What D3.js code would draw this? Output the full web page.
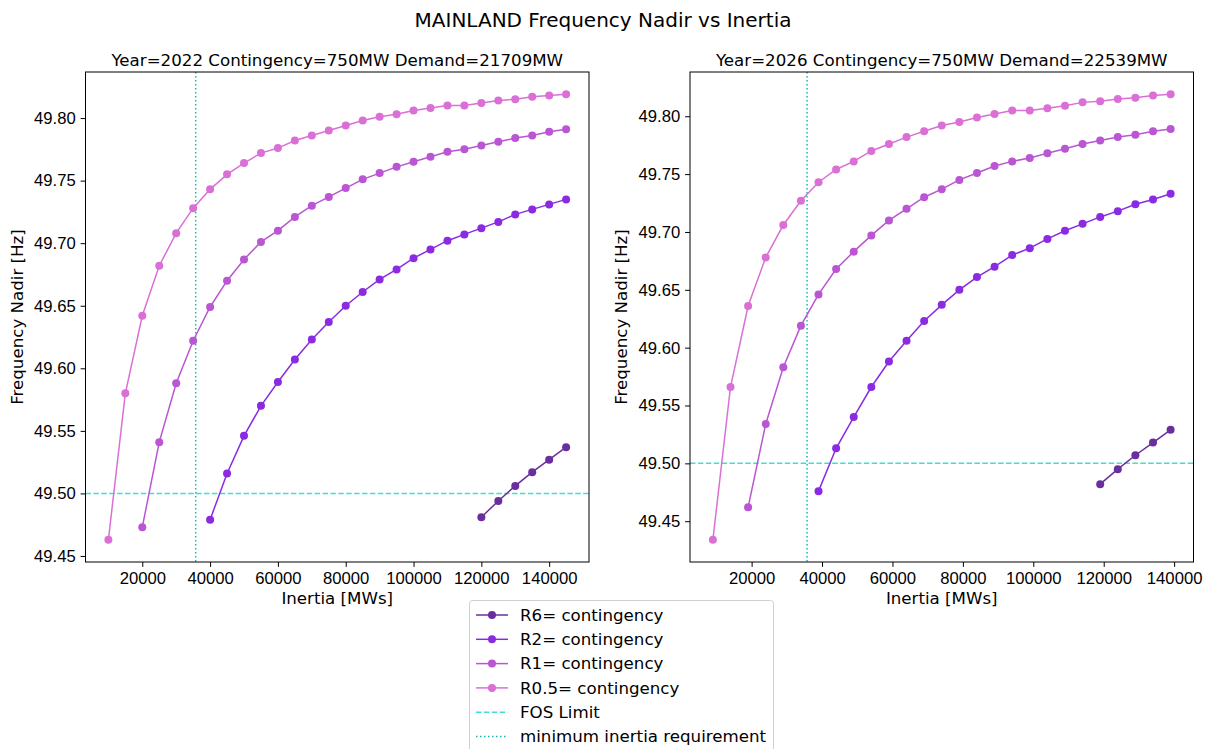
<!DOCTYPE html>
<html>
<head>
<meta charset="utf-8">
<script src="https://cdn.jsdelivr.net/npm/d3@7"></script>
<style>
  html, body { margin: 0; padding: 0; background: #fff; }
  svg { display: block; font-family: "DejaVu Sans", sans-serif; }
  .tick text { font-size: 16.67px; fill: #000; }
  .tick line { stroke: #000; stroke-width: 1; }
</style>
</head>
<body>
<svg id="chart" width="1207" height="749"></svg>
<script>
// Inertia sample points (MWs) for each study year
const inertia2022 = [10000, 15000, 20000, 25000, 30000, 35000, 40000, 45000, 50000, 55000,
  60000, 65000, 70000, 75000, 80000, 85000, 90000, 95000, 100000, 105000,
  110000, 115000, 120000, 125000, 130000, 135000, 140000, 145000];
const inertia2026 = [9000, 14000, 19000, 24000, 29000, 34000, 39000, 44000, 49000, 54000,
  59000, 64000, 69000, 74000, 79000, 84000, 89000, 94000, 99000, 104000,
  109000, 114000, 119000, 124000, 129000, 134000, 139000];

// Frequency nadir (Hz); each series covers the last N inertia points of its year
const r6_2022 = [49.481, 49.494, 49.506, 49.517, 49.527, 49.537];
const r2_2022 = [49.479, 49.516, 49.546, 49.570, 49.589, 49.607, 49.623, 49.637, 49.650, 49.661,
  49.671, 49.679, 49.688, 49.695, 49.702, 49.707, 49.712, 49.717, 49.723, 49.727, 49.731, 49.735];
const r1_2022 = [49.473, 49.541, 49.588, 49.622, 49.649, 49.670, 49.687, 49.701, 49.710, 49.721,
  49.730, 49.737, 49.744, 49.751, 49.756, 49.761, 49.765, 49.769, 49.773, 49.775,
  49.778, 49.781, 49.784, 49.786, 49.789, 49.791];
const r05_2022 = [49.463, 49.580, 49.642, 49.682, 49.708, 49.728, 49.743, 49.755, 49.764, 49.772,
  49.776, 49.782, 49.786, 49.790, 49.794, 49.798, 49.801, 49.803, 49.806, 49.808,
  49.810, 49.810, 49.812, 49.814, 49.815, 49.817, 49.818, 49.819];

const r6_2026 = [49.482, 49.495, 49.507, 49.518, 49.529];
const r2_2026 = [49.476, 49.513, 49.540, 49.566, 49.588, 49.606, 49.623, 49.637, 49.650, 49.661,
  49.670, 49.680, 49.686, 49.694, 49.701, 49.707, 49.713, 49.718, 49.724, 49.728, 49.733];
const r1_2026 = [49.462, 49.534, 49.583, 49.619, 49.646, 49.668, 49.683, 49.697, 49.710, 49.720,
  49.730, 49.737, 49.745, 49.751, 49.757, 49.761, 49.764, 49.768, 49.772, 49.776,
  49.779, 49.782, 49.784, 49.787, 49.789];
const r05_2026 = [49.434, 49.566, 49.636, 49.678, 49.706, 49.727, 49.743, 49.754, 49.761, 49.770,
  49.776, 49.782, 49.787, 49.792, 49.795, 49.799, 49.802, 49.805, 49.805, 49.807,
  49.809, 49.812, 49.813, 49.815, 49.816, 49.818, 49.819];

const seriesNames = ["R6= contingency", "R2= contingency", "R1= contingency", "R0.5= contingency"];
const seriesColors = ["#6a2f9e", "#8a2be2", "#ba55d3", "#da70d6"];

const panelTitles = [
  "Year=2022 Contingency=750MW Demand=21709MW",
  "Year=2026 Contingency=750MW Demand=22539MW"
];
const yTicks = [49.45, 49.50, 49.55, 49.60, 49.65, 49.70, 49.75, 49.80];
const xTicks = [20000, 40000, 60000, 80000, 100000, 120000, 140000];

const fosLimit = 49.5;
const minInertia = 35750;

const panels = [
  { inertia: inertia2022, series: [r6_2022, r2_2022, r1_2022, r05_2022], left: 85.5 },
  { inertia: inertia2026, series: [r6_2026, r2_2026, r1_2026, r05_2026], left: 690 }
];

const svg = d3.select("#chart");
const plotTop = 72, plotBottom = 562, plotWidth = 503.5;
const fontSize = 16.67;

svg.append("text")
  .attr("x", 603).attr("y", 27)
  .attr("text-anchor", "middle")
  .attr("font-size", 20)
  .text("MAINLAND Frequency Nadir vs Inertia");

// autoscale with a 5% margin on each side
function padded(ext) {
  const m = (ext[1] - ext[0]) * 0.05;
  return [ext[0] - m, ext[1] + m];
}

panels.forEach((p, pi) => {
  const all = p.series.map(s => p.inertia.slice(p.inertia.length - s.length).map((x, i) => [x, s[i]]));
  const flat = all.flat();
  const x = d3.scaleLinear().domain(padded(d3.extent(flat, d => d[0]))).range([p.left, p.left + plotWidth]);
  const y = d3.scaleLinear().domain(padded(d3.extent(flat, d => d[1]))).range([plotBottom, plotTop]);

  const g = svg.append("g");

  const clipId = "clip" + pi;
  svg.append("clipPath").attr("id", clipId)
    .append("rect").attr("x", p.left).attr("y", plotTop).attr("width", plotWidth).attr("height", plotBottom - plotTop);

  const plot = g.append("g").attr("clip-path", `url(#${clipId})`);

  // reference lines
  plot.append("line")
    .attr("x1", p.left).attr("x2", p.left + plotWidth)
    .attr("y1", y(fosLimit)).attr("y2", y(fosLimit))
    .attr("stroke", "#40e0d0").attr("stroke-width", 1.5)
    .attr("stroke-dasharray", "5.5,2.4");
  plot.append("line")
    .attr("x1", x(minInertia)).attr("x2", x(minInertia))
    .attr("y1", plotTop).attr("y2", plotBottom)
    .attr("stroke", "#20b2aa").attr("stroke-width", 1.5)
    .attr("stroke-dasharray", "1.5,2.5");

  const line = d3.line().x(d => x(d[0])).y(d => y(d[1]));
  all.forEach((pts, si) => {
    plot.append("path")
      .datum(pts)
      .attr("d", line)
      .attr("fill", "none")
      .attr("stroke", seriesColors[si])
      .attr("stroke-width", 1.5);
    plot.selectAll(null)
      .data(pts)
      .enter().append("circle")
      .attr("cx", d => x(d[0]))
      .attr("cy", d => y(d[1]))
      .attr("r", 4)
      .attr("fill", seriesColors[si]);
  });

  // axes
  const xAxis = d3.axisBottom(x).tickValues(xTicks).tickFormat(d3.format("d")).tickSize(4.9).tickPadding(4.9);
  const gx = g.append("g").attr("transform", `translate(0,${plotBottom})`).call(xAxis);
  gx.select(".domain").remove();

  const yAxis = d3.axisLeft(y).tickValues(yTicks.filter(t => t >= y.domain()[0] && t <= y.domain()[1]))
    .tickFormat(d3.format(".2f")).tickSize(4.9).tickPadding(4.9);
  const gy = g.append("g").attr("transform", `translate(${p.left},0)`).call(yAxis);
  gy.select(".domain").remove();

  g.append("rect")
    .attr("x", p.left).attr("y", plotTop)
    .attr("width", plotWidth).attr("height", plotBottom - plotTop)
    .attr("fill", "none").attr("stroke", "#000").attr("stroke-width", 1);

  g.append("text")
    .attr("x", p.left + plotWidth / 2).attr("y", 66)
    .attr("text-anchor", "middle").attr("font-size", fontSize)
    .text(panelTitles[pi]);

  g.append("text")
    .attr("x", p.left + plotWidth / 2).attr("y", 603.5)
    .attr("text-anchor", "middle").attr("font-size", fontSize)
    .text("Inertia [MWs]");

  g.append("text")
    .attr("transform", `translate(${p.left - 68.5},${(plotTop + plotBottom) / 2}) rotate(-90)`)
    .attr("text-anchor", "middle").attr("font-size", fontSize)
    .attr("dy", "0.35em")
    .text("Frequency Nadir [Hz]");
});

// legend
const legend = svg.append("g");
legend.append("rect")
  .attr("x", 469.5).attr("y", 600.5).attr("width", 304).attr("height", 160)
  .attr("rx", 3).attr("fill", "#fff").attr("fill-opacity", 0.8)
  .attr("stroke", "#d0d0d0").attr("stroke-width", 1);

const legendItems = seriesNames.map((n, i) => ({ name: n, color: seriesColors[i], type: "marker" }))
  .concat([
    { name: "FOS Limit", color: "#40e0d0", type: "dash" },
    { name: "minimum inertia requirement", color: "#20b2aa", type: "dot" }
  ]);

legendItems.forEach((it, i) => {
  const cy = 615 + i * 24.3;
  const ln = legend.append("line")
    .attr("x1", 476).attr("x2", 508).attr("y1", cy).attr("y2", cy)
    .attr("stroke", it.color).attr("stroke-width", 1.5);
  if (it.type === "dash") ln.attr("stroke-dasharray", "5.5,2.4");
  if (it.type === "dot") ln.attr("stroke-dasharray", "1.5,2.5");
  if (it.type === "marker") {
    legend.append("circle").attr("cx", 492).attr("cy", cy).attr("r", 4).attr("fill", it.color);
  }
  legend.append("text")
    .attr("x", 520).attr("y", cy).attr("dy", "0.35em")
    .attr("font-size", fontSize)
    .text(it.name);
});
</script>
</body>
</html>
